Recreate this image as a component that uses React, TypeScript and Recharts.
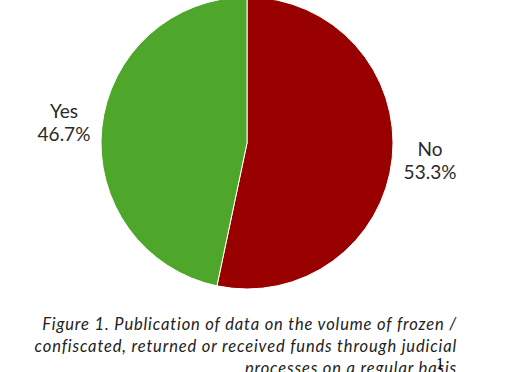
import { PieChart, Pie, Cell } from 'recharts';

const answers = ['No', 'Yes'];
const shares = [53.3, 46.7];
const sliceColors = ['#990000', '#4EA72A'];
const captionLines = [
  'Figure 1. Publication of data on the volume of frozen /',
  'confiscated, returned or received funds through judicial',
  'processes on a regular basis',
];

const data = answers.map((name, i) => ({ name, value: shares[i] }));

const RAD = Math.PI / 180;

const renderLabel = (props: any) => {
  const { cx, cy, midAngle, outerRadius, name, value } = props;
  const r = outerRadius + 38;
  const x = cx + r * Math.cos(-midAngle * RAD);
  const y = cy + r * Math.sin(-midAngle * RAD);
  return (
    <text x={x} y={y} textAnchor="middle" fill="#2a2a2a" fontSize={19} fontFamily="Lato, sans-serif">
      <tspan x={x} dy={-6}>{name}</tspan>
      <tspan x={x} dy={23}>{value.toFixed(1)}%</tspan>
    </text>
  );
};

export default function App() {
  return (
    <div style={{ position: 'absolute', left: 0, top: 0, width: 511, height: 372, overflow: 'hidden', background: '#fff' }}>
      <PieChart width={511} height={372} margin={{ top: 0, right: 0, bottom: 0, left: 0 }}>
        <Pie
          data={data}
          dataKey="value"
          nameKey="name"
          cx={247}
          cy={143}
          outerRadius={146}
          startAngle={90}
          endAngle={-270}
          stroke="#ffffff"
          strokeWidth={1}
          label={renderLabel}
          labelLine={false}
          isAnimationActive={false}
        >
          {data.map((d, i) => (
            <Cell key={d.name} fill={sliceColors[i]} />
          ))}
        </Pie>
      </PieChart>
      <div
        style={{
          position: 'absolute',
          right: 54,
          top: 313,
          textAlign: 'right',
          fontFamily: 'Lato, sans-serif',
          fontStyle: 'italic',
          fontSize: 16.5,
          letterSpacing: 0.85,
          lineHeight: '22px',
          color: '#222',
          whiteSpace: 'nowrap',
        }}
      >
        {captionLines.map((l) => (
          <div key={l}>{l}</div>
        ))}
      </div>
      <div style={{ position: 'absolute', left: 436, top: 355, fontFamily: 'serif', fontSize: 16, color: '#000' }}>1</div>
    </div>
  );
}
